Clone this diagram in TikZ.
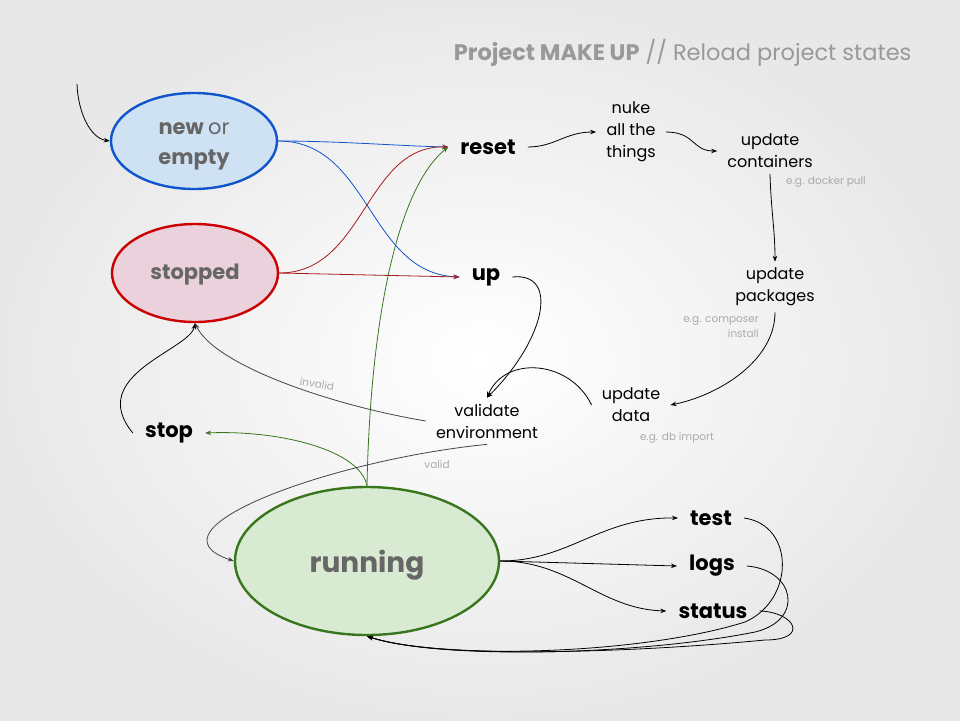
\documentclass[tikz,border=0pt]{standalone}
\usepackage{fontspec}
\setmainfont{Poppins}
\usetikzlibrary{arrows.meta,shapes.geometric}
\definecolor{bluefill}{HTML}{CFE2F3}
\definecolor{blueline}{HTML}{1155CC}
\definecolor{redfill}{HTML}{EAD1DC}
\definecolor{redline}{HTML}{CC0000}
\definecolor{darkred}{HTML}{A61C1C}
\definecolor{greenfill}{HTML}{D9EAD3}
\definecolor{greenline}{HTML}{38761D}
\definecolor{statetext}{HTML}{666666}
\definecolor{titlegray}{HTML}{999999}
\definecolor{hintgray}{HTML}{AAAAAA}
\definecolor{softline}{HTML}{444444}

\begin{document}
\begin{tikzpicture}[x=1pt,y=-1pt,
	state/.style={ellipse,draw,line width=2.4pt,inner sep=0pt,text=statetext,font=\bfseries\fontsize{21}{30}\selectfont},
	cmd/.style={inner xsep=12pt,inner ysep=4pt,font=\bfseries\fontsize{21}{25}\selectfont},
	task/.style={inner xsep=10pt,inner ysep=6pt,align=center,font=\fontsize{16}{22}\selectfont},
	hint/.style={inner sep=0pt,text=hintgray,font=\fontsize{10.5}{15}\selectfont},
	link/.style={-{Stealth[length=6pt,width=4.5pt]},line width=0.8pt},
	]
	% background
	\shade[inner color=white,outer color=black!9] (0,0) rectangle (960,720);
	\node[anchor=east,text=titlegray,font=\fontsize{22.5}{26}\selectfont] (title) at (915,53) {\textbf{Project MAKE UP} // Reload project states};

	% states
	\node[state,fill=bluefill,draw=blueline,minimum width=166pt,minimum height=96pt] (new) at (194,141)
		{\raisebox{6.5pt}[0pt][0pt]{\begin{tabular}[t]{@{}c@{}}new {\mdseries or}\\empty\end{tabular}}};
	\node[state,fill=redfill,draw=redline,minimum width=166pt,minimum height=98pt] (stopped) at (195,273) {\raisebox{-6pt}[0pt][0pt]{stopped}};
	\node[state,fill=greenfill,draw=greenline,minimum width=264pt,minimum height=148pt,font=\bfseries\fontsize{28}{32}\selectfont] (running) at (367,561) {\raisebox{-11pt}[0pt][0pt]{running}};
	\coordinate (init) at (77,84);

	% commands and steps
	\node[cmd] (reset) at (488,147) {reset};
	\node[cmd] (up) at (486,277) {up};
	\node[cmd] (stop) at (169,433) {stop};
	\node[cmd] (test) at (711,518) {test};
	\node[cmd] (logs) at (712,566) {logs};
	\node[cmd] (status) at (713,611) {status};
	\node[task] (nuke) at (631,132) {nuke\\all the\\things};
	\node[task] (containers) at (770,151) {update\\containers};
	\node[task] (packages) at (775,287) {update\\packages};
	\node[task] (data) at (631,405) {update\\data};
	\node[task] (validate) at (487,421) {validate\\environment};
	\node[hint] (dockerhint) at (826,182) {e.g. docker pull};
	\node[hint,anchor=east,align=right] (composerhint) at (759,327) {e.g. composer\\install};
	\node[hint] (dbhint) at (677,438) {e.g. db import};
	\node[hint,rotate=-9] (invalidlbl) at (317,384) {invalid};
	\node[hint] (validlbl) at (437,465) {valid};

	% entry
	\draw[link] (init) .. controls (78,112) and (90,138) .. (new.west);
	% from new / stopped
	\draw[link,blueline] (new.east) .. controls (340,141) and (400,146) .. (reset.west);
	\draw[link,blueline] (new.east) .. controls (370,141) and (368,273) .. (up.west);
	\draw[link,darkred] (stopped.east) .. controls (365,273) and (365,145) .. (reset.west);
	\draw[link,darkred] (stopped.east) -- (up.west);
	% from running
	\draw[link,greenline] (running.north) .. controls (370,330) and (395,190) .. (reset.west);
	\draw[link,greenline] (running.north) .. controls (360,450) and (280,430) .. (stop.east);
	% reset chain
	\draw[link] (reset.east) .. controls (555,147) and (565,132) .. (nuke.west);
	\draw[link] (nuke.east) .. controls (695,132) and (692,151) .. (containers.west);
	\draw[link] (containers.south) .. controls (771,210) and (775,230) .. (packages.north);
	\draw[link] (packages.south) .. controls (775,360) and (720,395) .. (data.east);
	\draw[link] (data.west) .. controls (570,360) and (505,355) .. (validate.north);
	\draw[link] (up.east) .. controls (560,272) and (545,340) .. (validate.north);
	% validation
	\draw[link,softline] (validate.west) .. controls (330,405) and (215,365) .. (stopped.south);
	\draw[link,softline] (validate.south) .. controls (330,460) and (140,530) .. (running.west);
	\draw[link] (stop.west) .. controls (85,375) and (190,350) .. (stopped.south);
	% running commands
	\draw[link] (running.east) .. controls (570,561) and (600,517) .. (test.west);
	\draw[link] (running.east) -- (logs.west);
	\draw[link] (running.east) .. controls (570,561) and (600,609) .. (status.west);
	\draw[link] (test.east) .. controls (795,525) and (795,600) .. (745,622) .. controls (640,655) and (440,660) .. (running.south);
	\draw[link] (logs.east) .. controls (795,570) and (805,620) .. (755,632) .. controls (640,655) and (440,660) .. (running.south);
	\draw[link] (status.east) .. controls (795,612) and (810,640) .. (765,640) .. controls (640,652) and (440,660) .. (running.south);
\end{tikzpicture}
\end{document}
